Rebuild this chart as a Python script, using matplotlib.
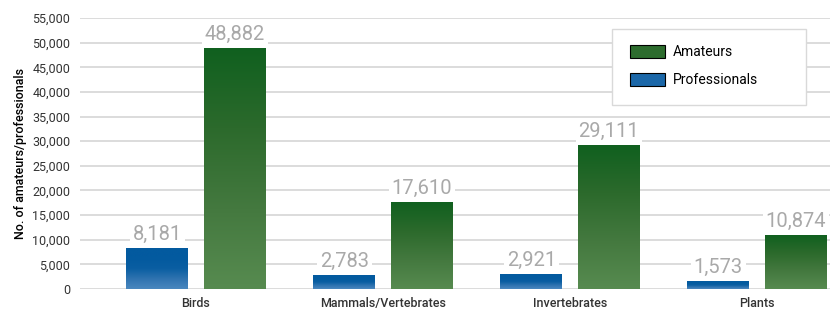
import numpy as np
import matplotlib
matplotlib.use("Agg")
import matplotlib.pyplot as plt
from matplotlib.colors import LinearSegmentedColormap
from matplotlib.patches import Rectangle

plt.rcParams["font.family"] = ["Roboto", "DejaVu Sans"]

# data
categories = ["Birds", "Mammals/Vertebrates", "Invertebrates", "Plants"]
professionals = [8181, 2783, 2921, 1573]
amateurs = [48882, 17610, 29111, 10874]

blue_cmap = LinearSegmentedColormap.from_list("blue", ["#4a87bf", "#2f73b0", "#0a5ea2", "#035a9f", "#035a9f"])
green_cmap = LinearSegmentedColormap.from_list("green", ["#578b50", "#44793f", "#2c6a2c", "#10601f"])

fig = plt.figure(figsize=(8.35, 3.1), dpi=100)
ax = fig.add_axes([80 / 835, 21 / 310, 750 / 835, 271 / 310])

x = np.arange(len(categories))
w = 0.33
off = 0.207

grad = np.linspace(0, 1, 256).reshape(-1, 1)


def grad_bar(xc, h, cmap):
    ax.imshow(grad, extent=[xc - w / 2, xc + w / 2, 0, h], origin="lower",
              aspect="auto", cmap=cmap, zorder=2)


for i in range(len(categories)):
    grad_bar(x[i] - off, professionals[i], blue_cmap)
    grad_bar(x[i] + off, amateurs[i], green_cmap)
    for xc, v in [(x[i] - off, professionals[i]), (x[i] + off, amateurs[i])]:
        ax.text(xc, v + 900, f"{v:,}", ha="center", va="bottom", fontsize=14.5,
                color="#a9a9a9", zorder=3,
                bbox=dict(facecolor="white", edgecolor="none", pad=2))

ax.set_xlim(-0.62, 3.39)
ax.set_ylim(0, 55000)
ax.set_yticks(np.arange(0, 55001, 5000))
ax.set_yticklabels([f"{t:,}" for t in range(0, 55001, 5000)])
ax.set_xticks(x)
ax.set_xticklabels(categories, fontweight="medium")
ax.tick_params(axis="both", length=0, labelsize=9, colors="#333333")
ax.tick_params(axis="y", pad=7)
ax.tick_params(axis="x", pad=6)
ax.grid(axis="y", color="#d9d9d9", linewidth=1.3, zorder=0)
ax.set_axisbelow(True)
for s in ax.spines.values():
    s.set_visible(False)
ax.set_ylabel("No. of amateurs/professionals", fontsize=9, fontweight="medium", labelpad=3.5)

# legend with a hand-drawn frame (frame wider than its content)
fx0, fx1, fy0, fy1 = 612 / 835, 806 / 835, (310 - 105) / 310, (310 - 29) / 310
fig.patches.append(Rectangle((fx0, fy0), fx1 - fx0, fy1 - fy0, transform=fig.transFigure,
                             facecolor="white", edgecolor="#d9d9d9", linewidth=1.0, zorder=4))
handles = [Rectangle((0, 0), 1, 1, facecolor="#2d6c2e", edgecolor="black", linewidth=0.8),
           Rectangle((0, 0), 1, 1, facecolor="#1b67a8", edgecolor="black", linewidth=0.8)]
leg = fig.legend(handles, ["Amateurs", "Professionals"], loc="upper left",
                 bbox_to_anchor=(630 / 835, (310 - 45) / 310), fontsize=10, frameon=False,
                 borderpad=0, handlelength=2.5, handleheight=1.1, labelspacing=0.95,
                 borderaxespad=0, handletextpad=0.6)
leg.set_zorder(5)

fig.savefig("out.png", dpi=100)
